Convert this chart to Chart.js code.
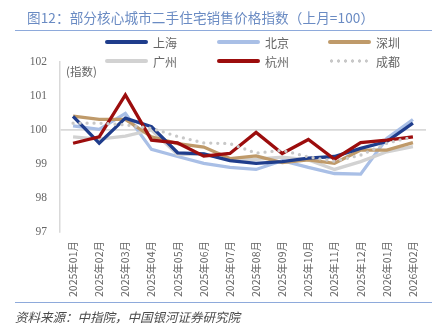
<!DOCTYPE html>
<html><head><meta charset="utf-8">
<script src="https://cdn.jsdelivr.net/npm/chart.js@4/dist/chart.umd.min.js"></script>
<style>
html,body{margin:0;padding:0;background:#fff;}
#wrap{position:relative;width:444px;height:330px;overflow:hidden;font-family:"Noto Sans CJK SC","Noto Sans",sans-serif;}
#c{position:absolute;left:0;top:0;}
.title{position:absolute;left:27px;top:7px;font-size:13.6px;color:#6a8bc3;white-space:nowrap;letter-spacing:0.1px;}
.hline{position:absolute;left:15px;width:417px;height:0;border-top:1.5px solid #8eaadb;}
.src{position:absolute;left:15px;top:307px;font-size:12.5px;font-style:italic;color:#4a4a4a;white-space:nowrap;}
.unit{position:absolute;left:66px;top:63px;font-size:11.5px;color:#666;white-space:nowrap;}
.lg{position:absolute;height:16px;display:flex;align-items:center;font-size:12px;color:#666;white-space:nowrap;}
.lg .sw{width:43px;height:3.5px;margin-right:5px;border-radius:2px;}
</style></head>
<body>
<div id="wrap">
<canvas id="c" width="444" height="330"></canvas>
<div class="title">图12：部分核心城市二手住宅销售价格指数（上月=100）</div>
<div class="hline" style="top:30px"></div>
<div class="hline" style="top:302px"></div>
<div class="unit">(指数)</div>
<div id="legend"></div>
<div class="src">资料来源：中指院，中国银河证券研究院</div>
</div>
<script>
const months = ['2025年01月','2025年02月','2025年03月','2025年04月','2025年05月','2025年06月','2025年07月','2025年08月','2025年09月','2025年10月','2025年11月','2025年12月','2026年01月','2026年02月'];
const seriesNames = ['上海','北京','深圳','广州','杭州','成都'];
const shanghai  = [100.40, 99.61, 100.35, 100.10, 99.33, 99.30, 99.10, 99.02, 99.07, 99.17, 99.22, 99.46, 99.66, 100.20];
const beijing   = [100.12, 100.02, 100.49, 99.43, 99.22, 99.02, 98.90, 98.84, 99.10, 98.90, 98.72, 98.70, 99.75, 100.31];
const shenzhen  = [100.41, 100.31, 100.31, 99.80, 99.60, 99.50, 99.16, 99.24, 99.04, 99.12, 99.02, 99.41, 99.41, 99.63];
const guangzhou = [99.80, 99.73, 99.82, 100.00, 99.28, 99.30, 99.12, 99.14, 99.20, 99.12, 98.84, 99.07, 99.36, 99.51];
const hangzhou  = [99.61, 99.80, 101.03, 99.70, 99.62, 99.23, 99.31, 99.93, 99.31, 99.72, 99.14, 99.63, 99.70, 99.80];
const chengdu   = [100.20, 100.20, 100.15, 100.05, 99.81, 99.62, 99.60, 99.32, 99.40, 99.21, 99.08, 99.26, 99.61, 99.80];
const yTicks = [97, 98, 99, 100, 101, 102];

const colors = ['#1f3d8c','#a9bfe6','#bf9a6a','#d2d2d2','#9c0d0d','#c8c8c8'];
const values = [shanghai, beijing, shenzhen, guangzhou, hangzhou, chengdu];
const drawOrder = [3, 6, 4, 5, 2, 1];

const datasets = values.map((v,i)=>({
  label: seriesNames[i],
  data: v,
  borderColor: colors[i],
  backgroundColor: colors[i],
  borderWidth: 3.3,
  borderDash: i===5 ? [0, 7] : [],
  borderCapStyle: i===5 ? 'round' : 'butt',
  borderJoinStyle: 'miter',
  pointRadius: 0,
  tension: 0,
  order: drawOrder[i]
}));

// HTML legend
const lgPos = [[105,34],[217,34],[328,34],[105,53],[217,53],[328,53]];
const lgEl = document.getElementById('legend');
seriesNames.forEach((n,i)=>{
  const d = document.createElement('div');
  d.className='lg';
  d.style.left = lgPos[i][0]+'px';
  d.style.top = lgPos[i][1]+'px';
  const sw = document.createElement('span');
  sw.className='sw';
  if(i===5){
    sw.style.backgroundImage = 'radial-gradient(circle, '+colors[i]+' 1.4px, transparent 1.9px)';
    sw.style.backgroundSize = '7px 4px';
    sw.style.height='4px';
    sw.style.width='40px';
    sw.style.marginRight='8px';
  } else {
    sw.style.background = colors[i];
  }
  d.appendChild(sw);
  const t = document.createElement('span');
  t.textContent = n;
  d.appendChild(t);
  lgEl.appendChild(d);
});

new Chart(document.getElementById('c'), {
  type: 'line',
  data: { labels: months, datasets },
  options: {
    responsive: false,
    animation: false,
    devicePixelRatio: 1,
    layout: { padding: { top: 62, right: 18, bottom: 0, left: 0 } },
    plugins: { legend: { display: false }, tooltip: { enabled: false } },
    scales: {
      x: {
        type: 'category',
        offset: true,
        grid: { display: false, drawTicks: false },
        border: { display: false },
        ticks: {
          minRotation: 90, maxRotation: 90, autoSkip: false, padding: 9,
          color: '#666',
          font: { family: '"Noto Sans CJK SC", sans-serif', size: 10.5 }
        },
        afterFit: s => { s.height = 98; }
      },
      y: {
        min: 97, max: 102,
        afterBuildTicks: s => { s.ticks = yTicks.map(v=>({value:v})); },
        grid: {
          drawTicks: false,
          color: c => (c.tick && c.tick.value === 100) ? '#d9d9d9' : 'rgba(0,0,0,0)',
          lineWidth: 1.8
        },
        border: { display: true, color: '#d9d9d9', width: 1.5 },
        ticks: {
          padding: 13,
          color: '#666',
          font: { family: '"Liberation Serif", serif', size: 11.5 }
        },
        afterFit: s => { s.width = 60; }
      }
    }
  }
});
</script>
</body></html>
